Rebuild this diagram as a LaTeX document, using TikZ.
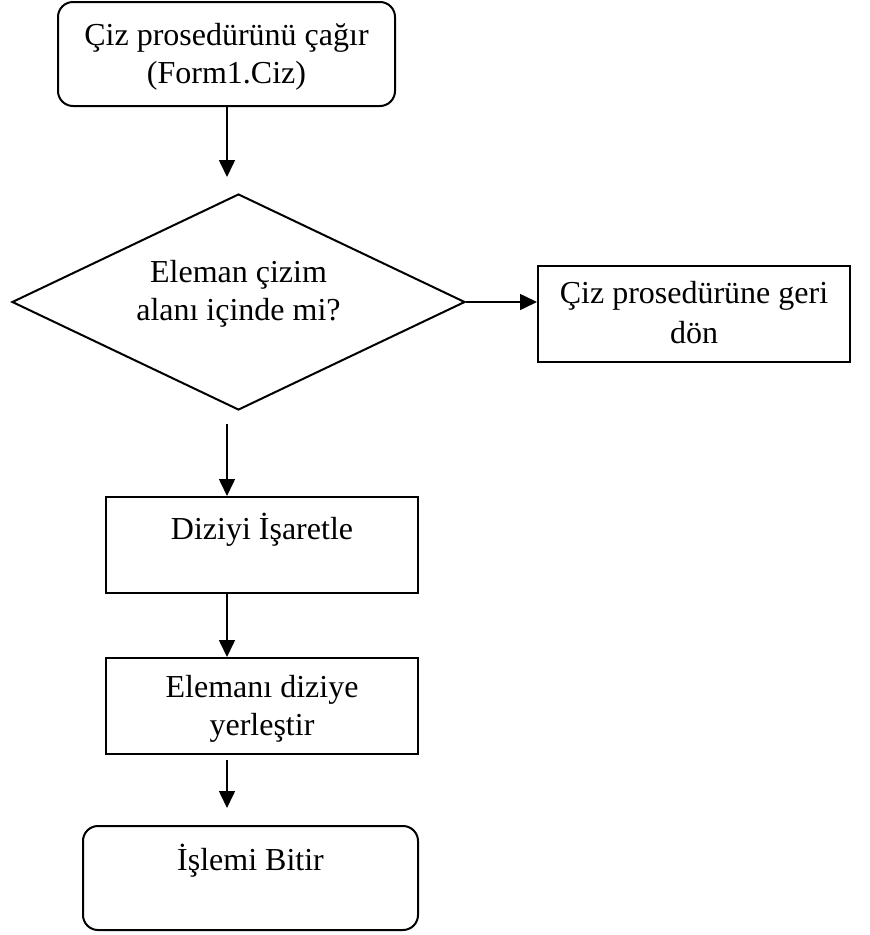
\documentclass[tikz,border=0pt]{standalone}
\usepackage{fontspec}
\setmainfont{Liberation Serif}
\usetikzlibrary{shapes.geometric,arrows.meta}
\tikzset{
  boxline/.style={draw=black,line width=2pt,inner sep=0pt,fill=white},
  stepbox/.style={boxline,rectangle,minimum width=312pt,minimum height=96pt},
  termbox/.style={boxline,rectangle,rounded corners=15pt},
  decbox/.style={boxline,diamond,minimum width=453pt,minimum height=216pt},
  txt/.style={anchor=base,align=center,inner sep=0pt,font=\fontsize{32}{38}\selectfont},
  arr/.style={line width=1.6pt,-{Triangle[width=16pt,length=17pt]}}
}
\begin{document}
\begin{tikzpicture}[x=1pt,y=-1pt]
\useasboundingbox (0,0) rectangle (870,935);

% shapes
\node[termbox,minimum width=337pt,minimum height=104pt] (start) at (226.5,54) {};
\node[decbox] (dec) at (238.5,302) {};
\node[stepbox] (back) at (694,314) {};
\node[stepbox] (dz) at (262,545) {};
\node[stepbox] (el) at (262,706) {};
\node[termbox,minimum width=335pt,minimum height=104pt] (fin) at (250.5,878) {};

% texts (base anchor = baseline of the last line)
\node[txt] (tstart) at (226.5,83) {Çiz prosedürünü çağır\\(Form1.Ciz)};
\node[txt] (tdec) at (238.5,320) {Eleman çizim\\alanı içinde mi?};
\node[txt,font=\fontsize{32}{40}\selectfont] (tback) at (694,343) {Çiz prosedürüne geri\\dön};
\node[txt] (tdz) at (262,539) {Diziyi İşaretle};
\node[txt] (tel) at (262,735) {Elemanı diziye\\yerleştir};
\node[txt] (tfin) at (250.5,870) {İşlemi Bitir};

% free ends of the connectors
\coordinate (a1e) at (227,177);
\coordinate (a2s) at (227,424);
\coordinate (a4s) at (227,760);
\coordinate (a4e) at (227,808);

% connectors
\draw[arr] (start.south -| a1e) -- (a1e);
\draw[arr] (dec.east) -- (dec.east -| back.west);
\draw[arr] (a2s) -- (a2s |- dz.north);
\draw[arr] (dz.south -| a2s) -- (a2s |- el.north);
\draw[arr] (a4s) -- (a4e);
\end{tikzpicture}
\end{document}
